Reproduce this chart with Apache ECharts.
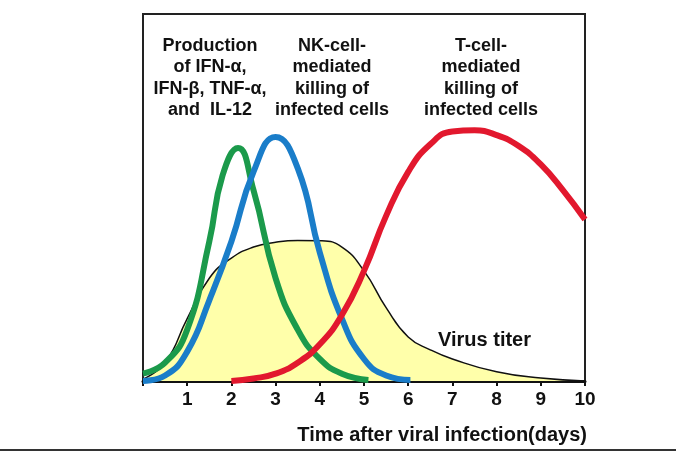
<!DOCTYPE html><html><head><meta charset="utf-8"><script src="https://cdn.jsdelivr.net/npm/echarts@6/dist/echarts.min.js"></script></head><body style="margin:0"><div id="c" style="width:676px;height:454px"></div><script>
var ticks=[1,2,3,4,5,6,7,8,9,10];
var virus=[[0,0.5],[0.5,5],[1,17],[1.5,28],[2,33.5],[2.5,36.5],[3,37.8],[3.5,38.3],[4,38.2],[4.5,36.5],[5,30],[5.5,20],[6,12],[6.5,8.5],[7,6],[8,2.5],[9,0.8],[10,0]];
var green=[[0,2],[0.5,5],[1,14],[1.5,38],[1.8,56],[2.15,63.5],[2.5,52],[3,28],[3.5,14],[4,6],[4.5,2],[5.1,0.3]];
var blue=[[0,0],[0.5,1.5],[1,8],[1.5,22],[2,38],[2.5,57],[3,66.5],[3.5,58],[4,35],[4.5,17],[5,6],[5.5,1.5],[6.05,0.3]];
var red=[[2,0],[2.5,0.7],[3,2],[3.5,5],[4,10],[4.5,18],[5,30],[5.5,45],[6,57],[6.5,64.5],[7,68],[7.5,68.3],[8,67],[8.5,64],[9,59],[9.5,52],[10,44]];
var F='"Liberation Sans",Arial,sans-serif';
var ch=echarts.init(document.getElementById('c'));
function ln(d,c){return {type:'line',data:d,smooth:0.5,symbol:'none',lineStyle:{color:c,width:6},z:3};}
function txt(cx,y,s){return {type:'text',x:cx,y:y,style:{text:s,font:'bold 18px '+F,fill:'#111',align:'center',verticalAlign:'top',lineHeight:21.5}};}
ch.setOption({animation:false,
grid:{left:143,right:91,top:14,bottom:73,show:true,borderColor:'#222',borderWidth:2},
xAxis:{type:'value',min:0,max:10,interval:1,axisLine:{lineStyle:{color:'#111',width:3}},axisTick:{length:5,lineStyle:{color:'#111',width:2}},splitLine:{show:false},
 axisLabel:{formatter:function(v){return ticks.indexOf(v)>=0?v:'';},fontSize:19,fontWeight:'bold',color:'#111',fontFamily:F,margin:9},
 name:'Time after viral infection(days)',nameLocation:'end',nameGap:0,nameTextStyle:{fontSize:20,fontWeight:'bold',color:'#111',fontFamily:F,align:'right',verticalAlign:'top',padding:[44,-2,0,0]}},
yAxis:{type:'value',min:0,max:100,show:false},
series:[{type:'line',data:virus,smooth:0.5,symbol:'none',lineStyle:{color:'#111',width:1.5},areaStyle:{color:'#ffffaa',opacity:1},z:2},
ln(green,'#1b9a4b'),ln(blue,'#1a7dc9'),ln(red,'#e2182e')],
graphic:[
txt(210,35,'Production\nof IFN-α,\nIFN-β, TNF-α,\nand  IL-12'),
txt(332,35,'NK-cell-\nmediated\nkilling of\ninfected cells'),
txt(481,35,'T-cell-\nmediated\nkilling of\ninfected cells'),
{type:'text',x:438,y:330,style:{text:'Virus titer',font:'bold 20px '+F,fill:'#111'}},
{type:'rect',shape:{x:0,y:449,width:676,height:2},style:{fill:'#333'}}
]});
</script></body></html>
